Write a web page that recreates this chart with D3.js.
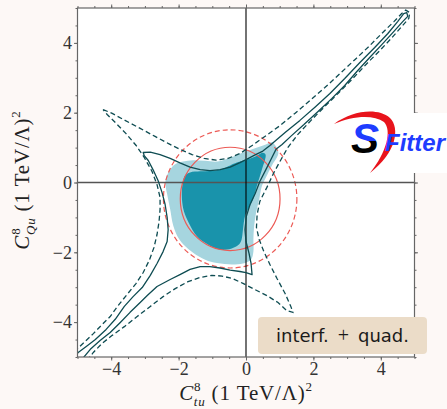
<!DOCTYPE html>
<html>
<head>
<meta charset="utf-8">
<script src="https://cdn.jsdelivr.net/npm/d3@7"></script>
<style>
  html, body { margin: 0; padding: 0; background: #fdf8f6; }
  svg { display: block; }
</style>
</head>
<body>
<div id="chart"></div>
<script>
// axis ticks
const xTicks = [-4, -2, 0, 2, 4];
const yTicks = [-4, -2, 0, 2, 4];

// 95% region (light fill), [C_tu, C_Qu]
const region95 = [
  [-2.37, 0.14], [-2.25, 0.37], [-2.10, 0.52], [-1.87, 0.60], [-1.57, 0.64], [-1.21, 0.62],
  [-0.86, 0.60], [-0.62, 0.66], [-0.39, 0.74], [0.03, 0.90], [0.33, 1.00], [0.59, 1.09],
  [0.77, 1.15], [0.89, 1.03], [0.96, 0.86], [0.92, 0.72], [0.77, 0.49], [0.59, 0.14],
  [0.47, -0.11], [0.39, -0.49], [0.30, -0.86], [0.24, -1.26], [0.22, -1.63], [0.22, -1.98],
  [0.15, -2.21], [-0.09, -2.32], [-0.41, -2.35], [-0.86, -2.31], [-1.21, -2.21], [-1.57, -2.01],
  [-1.81, -1.82], [-2.01, -1.58], [-2.16, -1.23], [-2.25, -0.77], [-2.34, -0.34], [-2.39, -0.06]
];

// 68% region (dark fill)
const region68 = [
  [-1.81, 0.20], [-1.66, 0.29], [-1.36, 0.32], [-1.07, 0.33], [-0.77, 0.37], [-0.47, 0.49],
  [-0.27, 0.57], [0.03, 0.66], [0.33, 0.77], [0.50, 0.85], [0.58, 0.80], [0.56, 0.63],
  [0.50, 0.46], [0.41, 0.17], [0.32, -0.11], [0.21, -0.49], [0.06, -0.77], [-0.03, -0.97],
  [-0.09, -1.35], [-0.13, -1.63], [-0.21, -1.78], [-0.39, -1.88], [-0.62, -1.93], [-0.83, -1.91],
  [-1.13, -1.78], [-1.45, -1.55], [-1.70, -1.15], [-1.84, -0.83], [-1.90, -0.49], [-1.90, -0.20],
  [-1.87, 0.03]
];

// interf. + quad. contours (solid = 68%, dashed = 95%)
const contourSolid = [
  [-3.05, 0.86], [-2.84, 0.87], [-2.55, 0.80], [-2.25, 0.69], [-1.96, 0.56], [-1.66, 0.44],
  [-1.36, 0.37], [-1.07, 0.34], [-0.77, 0.37], [-0.47, 0.44], [-0.18, 0.57], [0.03, 0.67],
  [0.27, 0.79], [0.50, 0.90], [0.71, 1.06], [1.16, 1.43], [1.60, 1.78], [2.07, 2.18],
  [2.49, 2.55], [2.93, 2.98], [3.38, 3.44], [3.82, 3.87], [4.21, 4.27], [4.50, 4.61],
  [4.68, 4.84], [4.77, 4.87], [4.80, 4.76], [4.65, 4.61], [4.39, 4.33], [4.03, 3.95],
  [3.67, 3.58], [3.29, 3.18], [2.93, 2.78], [2.55, 2.41], [2.13, 2.03], [1.72, 1.66],
  [1.36, 1.35], [1.07, 1.09], [0.89, 0.95], [0.74, 0.66], [0.59, 0.37], [0.41, 0.03],
  [0.27, -0.32], [0.12, -0.63], [0.01, -0.97], [-0.03, -1.35], [0.00, -1.69], [0.09, -2.03],
  [0.15, -2.32], [0.18, -2.64], [0.00, -2.58], [-0.18, -2.55], [-0.47, -2.51], [-0.77, -2.45],
  [-1.07, -2.41], [-1.36, -2.41], [-1.66, -2.49], [-1.96, -2.64], [-2.25, -2.78], [-2.64, -2.98],
  [-2.93, -3.24], [-3.14, -3.44], [-3.44, -3.72], [-3.73, -4.01], [-4.03, -4.30], [-4.33, -4.53],
  [-4.62, -4.78], [-4.92, -5.13], [-5.22, -5.13], [-4.98, -4.87], [-4.74, -4.70], [-4.47, -4.50],
  [-4.15, -4.21], [-3.88, -3.92], [-3.61, -3.55], [-3.35, -3.27], [-3.08, -3.01], [-2.84, -2.66],
  [-2.64, -2.32], [-2.46, -1.98], [-2.34, -1.69], [-2.31, -1.35], [-2.34, -1.00], [-2.40, -0.63],
  [-2.49, -0.29], [-2.61, 0.06], [-2.76, 0.37], [-2.90, 0.63], [-3.02, 0.77]
];

const contourDashed = [
  [-4.24, 2.09], [-3.97, 1.98], [-3.59, 1.78], [-3.14, 1.55], [-2.70, 1.32], [-2.31, 1.12],
  [-1.96, 0.95], [-1.60, 0.80], [-1.24, 0.69], [-0.89, 0.64], [-0.53, 0.69], [-0.18, 0.83],
  [0.18, 1.06], [0.56, 1.32], [1.01, 1.63], [1.45, 1.98], [1.90, 2.35], [2.34, 2.72],
  [2.79, 3.12], [3.23, 3.52], [3.67, 3.92], [4.06, 4.30], [4.39, 4.61], [4.62, 4.84],
  [4.74, 4.94], [4.86, 4.87], [4.83, 4.70], [4.62, 4.47], [4.33, 4.15], [3.97, 3.78],
  [3.59, 3.41], [3.17, 2.98], [2.76, 2.58], [2.34, 2.18], [1.93, 1.78], [1.54, 1.38],
  [1.24, 1.00], [1.04, 0.66], [0.83, 0.29], [0.62, -0.14], [0.41, -0.54], [0.33, -0.92],
  [0.31, -1.29], [0.39, -1.63], [0.53, -1.98], [0.71, -2.35], [0.92, -2.75], [1.16, -3.18],
  [1.33, -3.55], [1.39, -3.72], [1.21, -3.67], [0.95, -3.44], [0.62, -3.24], [0.27, -3.07],
  [-0.09, -2.89], [-0.41, -2.75], [-0.71, -2.68], [-1.01, -2.66], [-1.36, -2.72], [-1.72, -2.84],
  [-2.10, -3.04], [-2.46, -3.27], [-2.84, -3.55], [-3.23, -3.84], [-3.61, -4.13], [-3.97, -4.38],
  [-4.27, -4.61], [-4.53, -4.87], [-4.74, -5.13], [-5.22, -5.07], [-5.22, -4.96], [-4.80, -4.58],
  [-4.53, -4.33], [-4.30, -4.10], [-4.03, -3.84], [-3.79, -3.52], [-3.53, -3.21], [-3.26, -2.89],
  [-3.05, -2.58], [-2.87, -2.23], [-2.73, -1.86], [-2.64, -1.49], [-2.58, -1.12], [-2.55, -0.77],
  [-2.55, -0.43], [-2.64, -0.06], [-2.79, 0.32], [-3.02, 0.72], [-3.26, 1.06], [-3.56, 1.40],
  [-3.85, 1.69], [-4.12, 1.95]
];

// interference-only ellipses: centre and radius
const circleCentre = [-0.47, -0.47];
const circleRadius = [1.48, 1.98];   // 68% solid, 95% dashed

const W = 447, H = 409;
const margin = { left: 77.5, right: 32.5, top: 8, bottom: 52 };

const svg = d3.select('#chart').append('svg')
  .attr('width', W)
  .attr('height', H)
  .attr('viewBox', `0 0 ${W} ${H}`);

svg.append('rect').attr('width', W).attr('height', H).attr('fill', '#fdf8f6');

const x = d3.scaleLinear().domain([-5, 5]).range([margin.left, W - margin.right]);
const y = d3.scaleLinear().domain([-5, 5]).range([H - margin.bottom, margin.top]);

const defs = svg.append('defs');
defs.append('clipPath').attr('id', 'plotclip')
  .append('rect')
  .attr('x', x(-5)).attr('y', y(5))
  .attr('width', x(5) - x(-5)).attr('height', y(-5) - y(5));

// plot background
svg.append('rect')
  .attr('x', x(-5)).attr('y', y(5))
  .attr('width', x(5) - x(-5)).attr('height', y(-5) - y(5))
  .attr('fill', '#fff');

const plot = svg.append('g').attr('clip-path', 'url(#plotclip)');

const smooth = d3.line().x(d => x(d[0])).y(d => y(d[1])).curve(d3.curveCatmullRomClosed.alpha(0.5));
const jagged = d3.line().x(d => x(d[0])).y(d => y(d[1])).curve(d3.curveLinearClosed);

plot.append('path').attr('d', smooth(region95)).attr('fill', '#a6d5df');
plot.append('path').attr('d', smooth(region68)).attr('fill', '#1993ab');

// interference-only circles
circleRadius.forEach((r, i) => {
  plot.append('ellipse')
    .attr('cx', x(circleCentre[0]))
    .attr('cy', y(circleCentre[1]))
    .attr('rx', x(r) - x(0))
    .attr('ry', y(0) - y(r))
    .attr('fill', 'none')
    .attr('stroke', '#ec5a55')
    .attr('stroke-width', 1.2)
    .attr('stroke-dasharray', i === 1 ? '5,3' : null);
});

// zero lines
plot.append('line')
  .attr('x1', x(-5)).attr('x2', x(5))
  .attr('y1', y(0)).attr('y2', y(0))
  .attr('stroke', '#555').attr('stroke-width', 1.4);
plot.append('line')
  .attr('x1', x(0)).attr('x2', x(0))
  .attr('y1', y(-5)).attr('y2', y(5))
  .attr('stroke', '#000').attr('stroke-width', 1.1);

plot.append('path').attr('d', jagged(contourSolid))
  .attr('fill', 'none').attr('stroke', '#0e4c52').attr('stroke-width', 1.3)
  .attr('stroke-linejoin', 'round');
plot.append('path').attr('d', jagged(contourDashed))
  .attr('fill', 'none').attr('stroke', '#0e4c52').attr('stroke-width', 1.3)
  .attr('stroke-dasharray', '5,3');

// frame
svg.append('rect')
  .attr('x', x(-5)).attr('y', y(5))
  .attr('width', x(5) - x(-5)).attr('height', y(-5) - y(5))
  .attr('fill', 'none').attr('stroke', '#666').attr('stroke-width', 1.2);

// axes: majors with labels, minors every 0.5
const tickFont = 'Liberation Serif, serif';
function styleAxis(g) {
  g.select('.domain').remove();
  g.selectAll('line').attr('stroke', '#666').attr('stroke-width', 1);
  g.selectAll('text').attr('fill', '#333').attr('font-family', tickFont).attr('font-size', 18);
}
const minorVals = x.ticks(20);

svg.append('g').attr('transform', `translate(0,${y(-5)})`)
  .call(d3.axisBottom(x).tickValues(xTicks).tickSize(3.5).tickPadding(2))
  .call(styleAxis);
svg.append('g').attr('transform', `translate(0,${y(-5)})`)
  .call(d3.axisBottom(x).tickValues(minorVals).tickSize(2).tickFormat(''))
  .call(styleAxis);
svg.append('g').attr('transform', `translate(0,${y(5)})`)
  .call(d3.axisTop(x).tickValues(minorVals).tickSize(2).tickFormat(''))
  .call(styleAxis);
svg.append('g').attr('transform', `translate(0,${y(5)})`)
  .call(d3.axisTop(x).tickValues(xTicks).tickSize(3.5).tickFormat(''))
  .call(styleAxis);

svg.append('g').attr('transform', `translate(${x(-5)},0)`)
  .call(d3.axisLeft(y).tickValues(yTicks).tickSize(3.5).tickPadding(2))
  .call(styleAxis);
svg.append('g').attr('transform', `translate(${x(-5)},0)`)
  .call(d3.axisLeft(y).tickValues(y.ticks(20)).tickSize(2).tickFormat(''))
  .call(styleAxis);
svg.append('g').attr('transform', `translate(${x(5)},0)`)
  .call(d3.axisRight(y).tickValues(y.ticks(20)).tickSize(2).tickFormat(''))
  .call(styleAxis);
svg.append('g').attr('transform', `translate(${x(5)},0)`)
  .call(d3.axisRight(y).tickValues(yTicks).tickSize(3.5).tickFormat(''))
  .call(styleAxis);

// axis labels
function coeffLabel(t, sub) {
  t.attr('font-family', tickFont).attr('font-size', 21).attr('fill', '#222')
    .attr('text-anchor', 'middle').attr('letter-spacing', 0.8);
  t.append('tspan').attr('font-style', 'italic').text('C');
  t.append('tspan').attr('font-size', 13).attr('dy', -9).text('8');
  t.append('tspan').attr('font-size', 13).attr('font-style', 'italic').attr('dx', -7.5).attr('dy', 15).text(sub);
  t.append('tspan').attr('dy', -6).text('\u00a0(1\u00a0TeV/\u039b)');
  t.append('tspan').attr('font-size', 13).attr('dy', -9).text('2');
}
svg.append('text').attr('x', x(0)).attr('y', 400).call(t => coeffLabel(t, 'tu'));
svg.append('g').attr('transform', `translate(29,180) rotate(-90)`)
  .append('text').call(t => coeffLabel(t, 'Qu'));

// legend box
svg.append('rect')
  .attr('x', 258).attr('y', 317).attr('width', 169).attr('height', 37)
  .attr('rx', 4).attr('fill', '#ebdcc8');
const lbl = svg.append('text')
  .attr('x', 342.5).attr('y', 342)
  .attr('text-anchor', 'middle')
  .attr('font-family', 'DejaVu Sans, sans-serif')
  .attr('font-size', 18).attr('fill', '#1a1a1a');
lbl.append('tspan').text('interf.\u2002');
lbl.append('tspan').attr('font-family', tickFont).attr('font-size', 20).text('+');
lbl.append('tspan').text('\u2002quad.');

// SFitter logo
const logo = svg.append('g');
logo.append('rect').attr('x', 333).attr('y', 113).attr('width', 114).attr('height', 60).attr('fill', '#fff');
logo.append('path')
  .attr('d', 'M334,124 C352,111 377,107 390,118 C400,128 397,152 370,173 C387,152 392,130 384,122 C373,114 352,116 334,124 Z')
  .attr('fill', '#e8141c');
defs.append('clipPath').attr('id', 'stop').append('rect').attr('x', 340).attr('y', 110).attr('width', 60).attr('height', 31);
defs.append('clipPath').attr('id', 'sbot').append('rect').attr('x', 340).attr('y', 141).attr('width', 60).attr('height', 30);
['stop', 'sbot'].forEach((id, i) => {
  logo.append('text')
    .attr('x', 351).attr('y', 153)
    .attr('clip-path', `url(#${id})`)
    .attr('font-family', 'Liberation Sans, sans-serif')
    .attr('font-weight', 'bold').attr('font-style', 'italic')
    .attr('font-size', 42)
    .attr('fill', i === 0 ? '#1e3cff' : '#000')
    .text('S');
});
logo.append('text')
  .attr('x', 385).attr('y', 151)
  .attr('font-family', 'Liberation Sans, sans-serif')
  .attr('font-weight', 'bold').attr('font-style', 'italic')
  .attr('font-size', 24).attr('fill', '#1e3cff')
  .text('Fitter');
</script>
</body>
</html>
